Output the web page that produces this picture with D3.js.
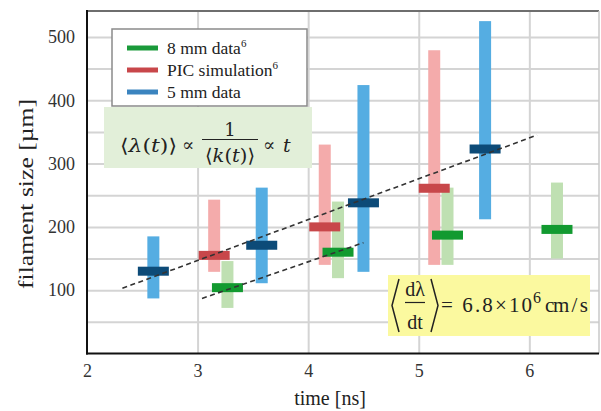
<!DOCTYPE html>
<html>
<head>
<meta charset="utf-8">
<script src="https://cdn.jsdelivr.net/npm/d3@7"></script>
<style>
  body { margin: 0; background: #fff; }
  svg text { font-family: "Liberation Serif", "Times New Roman", serif; fill: #222; }
  .grid line { stroke: #d4d4d4; stroke-width: 2; }
  .grid path { display: none; }
  .tick-lab path { display: none; }
</style>
</head>
<body>
<script>
// ---- data ----
const time5 = [2.6, 3.58, 4.5, 5.6];
const med5 = [130, 171, 238, 323];
const lo5 = [87, 111, 129, 212];
const hi5 = [185, 262, 424, 525];

const timePic = [3.15, 4.15, 5.14];
const medPic = [155, 200, 261];
const loPic = [129, 140, 140];
const hiPic = [243, 330, 479];

const time8 = [3.27, 4.27, 5.26, 6.25];
const med8 = [104, 160, 187, 196];
const lo8 = [72, 119, 140, 150];
const hi8 = [146, 240, 262, 270];

// dashed trend lines [t, size]
const fitUpper = [[2.32, 103], [6.07, 345]];
const fitLower = [[3.04, 87], [4.5, 175]];

const xTicks = [2, 3, 4, 5, 6];
const yTicks = [100, 200, 300, 400, 500];
const yGrid = d3.range(50, 501, 50);

const seriesNames = ['8 mm data', 'PIC simulation', '5 mm data'];

// ---- layout ----
const W = 601, H = 411;
const plotL = 87, plotR = 599, plotT = 11, plotB = 353.5;
const serif = '"Liberation Serif", "Times New Roman", serif';
const mathFont = '"DejaVu Serif", serif';

const x = d3.scaleLinear().domain([2, 6.63]).range([plotL, plotR]);
const y = d3.scaleLinear().domain([0, 541]).range([plotB, plotT]);

const svg = d3.select('body').append('svg')
  .attr('width', W)
  .attr('height', H);

function buildChart() {
  // grid
  svg.append('g')
    .attr('class', 'grid')
    .attr('transform', 'translate(' + plotL + ',0)')
    .call(d3.axisLeft(y).tickValues(yGrid).tickSize(-(plotR - plotL)).tickFormat(''));

  svg.append('g')
    .attr('class', 'grid')
    .attr('transform', 'translate(0,' + plotB + ')')
    .call(d3.axisBottom(x).tickValues([3, 4, 5, 6]).tickSize(plotB - plotT).tickFormat(''))
    .selectAll('line').attr('y2', -(plotB - plotT));

  // frame
  svg.append('line').attr('x1', plotL).attr('x2', plotR).attr('y1', plotT).attr('y2', plotT)
    .attr('stroke', '#6e6e6e').attr('stroke-width', 2);
  svg.append('line').attr('x1', plotR).attr('x2', plotR).attr('y1', plotT).attr('y2', plotB)
    .attr('stroke', '#c8c8c8').attr('stroke-width', 1.5);
  svg.append('line').attr('x1', plotL).attr('x2', plotL).attr('y1', plotT - 1).attr('y2', plotB + 1)
    .attr('stroke', '#111').attr('stroke-width', 2);
  svg.append('line').attr('x1', plotL - 1).attr('x2', plotR).attr('y1', plotB).attr('y2', plotB)
    .attr('stroke', '#111').attr('stroke-width', 2);

  // tick labels
  const xLab = svg.append('g')
    .attr('class', 'tick-lab')
    .attr('transform', 'translate(0,' + plotB + ')')
    .call(d3.axisBottom(x).tickValues(xTicks).tickSize(0).tickPadding(11).tickFormat(d3.format('d')));

  const yLab = svg.append('g')
    .attr('class', 'tick-lab')
    .attr('transform', 'translate(' + (plotL - 1) + ',0)')
    .call(d3.axisLeft(y).tickValues(yTicks).tickSize(0).tickPadding(11).tickFormat(d3.format('d')));

  [xLab, yLab].forEach(a => {
    a.attr('font-family', null).attr('font-size', null);
    a.selectAll('text')
      .style('font-family', serif)
      .style('font-size', '18px')
      .style('fill', '#333');
  });

  // axis titles
  svg.append('text')
    .attr('x', 330).attr('y', 405)
    .attr('text-anchor', 'middle')
    .style('font-size', '20px')
    .text('time [ns]');

  svg.append('text')
    .attr('transform', 'translate(33,194) rotate(-90)')
    .attr('text-anchor', 'middle')
    .attr('textLength', 190)
    .attr('lengthAdjust', 'spacingAndGlyphs')
    .style('font-size', '21px')
    .text('filament size [µm]');

  // formula box (green)
  svg.append('rect')
    .attr('x', 104).attr('y', 107).attr('width', 208).attr('height', 61)
    .attr('fill', '#e2efd9');

  // legend box
  svg.append('rect')
    .attr('x', 112).attr('y', 29).attr('width', 195).attr('height', 77)
    .attr('fill', '#fff').attr('stroke', '#8a8a8a').attr('stroke-width', 1.5);

  // yellow box
  svg.append('rect')
    .attr('x', 388).attr('y', 275).attr('width', 202).attr('height', 61)
    .attr('fill', '#fbf99f');

  const line = d3.line().x(d => x(d[0])).y(d => y(d[1]));

  const series = [
    { t: timePic, med: medPic, lo: loPic, hi: hiPic, bar: '#f4abab', mark: '#c8474a' },
    { t: time8, med: med8, lo: lo8, hi: hi8, bar: '#bfe0b2', mark: '#129a30' },
    { t: time5, med: med5, lo: lo5, hi: hi5, bar: '#55ade2', mark: '#0d4b78' }
  ];

  const barW = 12, markW = 31, markH = 9;

  series.forEach(s => {
    const idx = d3.range(s.t.length);
    svg.append('g').selectAll('.range-bar')
      .data(idx)
      .enter().append('rect')
      .attr('class', 'range-bar')
      .attr('x', i => x(s.t[i]) - barW / 2)
      .attr('y', i => y(s.hi[i]))
      .attr('width', barW)
      .attr('height', i => y(s.lo[i]) - y(s.hi[i]))
      .attr('fill', s.bar);
  });

  // medians on top
  series.forEach(s => {
    const idx = d3.range(s.t.length);
    svg.append('g').selectAll('.mark')
      .data(idx)
      .enter().append('rect')
      .attr('class', 'mark')
      .attr('x', i => x(s.t[i]) - markW / 2)
      .attr('y', i => y(s.med[i]) - markH / 2)
      .attr('width', markW)
      .attr('height', markH)
      .attr('fill', s.mark);
  });

  // dashed lines above the marks
  [fitUpper, fitLower].forEach(f => {
    svg.append('path')
      .attr('d', line(f))
      .attr('fill', 'none')
      .attr('stroke', '#333')
      .attr('stroke-width', 1.6)
      .attr('stroke-dasharray', '5,3.5');
  });

  // legend entries
  const legColors = ['#1a9a3a', '#c8474a', '#3b84bf'];
  const sup = [true, true, false];
  seriesNames.forEach((name, i) => {
    const yy = 48 + i * 22;
    svg.append('line')
      .attr('x1', 127).attr('x2', 158).attr('y1', yy).attr('y2', yy)
      .attr('stroke', legColors[i]).attr('stroke-width', 5);
    const t = svg.append('text')
      .attr('x', 167).attr('y', yy + 6)
      .style('font-size', '17.5px')
      .text(name);
    if (sup[i]) {
      t.append('tspan').attr('dy', -7).style('font-size', '11px').text('6');
    }
  });

  // green formula
  const gf = svg.append('g');
  gf.append('text').attr('x', 120).attr('y', 152)
    .style('font-size', '19px').style('font-family', mathFont)
    .attr('textLength', 57).attr('lengthAdjust', 'spacingAndGlyphs')
    .html('⟨<tspan font-style="italic">λ</tspan>(<tspan font-style="italic">t</tspan>)⟩');
  gf.append('text').attr('x', 182).attr('y', 151)
    .style('font-size', '18px').style('font-family', mathFont).text('∝');
  gf.append('text').attr('x', 230).attr('y', 136).attr('text-anchor', 'middle')
    .style('font-size', '18px').style('font-family', mathFont).text('1');
  gf.append('line').attr('x1', 202).attr('x2', 258).attr('y1', 139.5).attr('y2', 139.5)
    .attr('stroke', '#222').attr('stroke-width', 1.2);
  gf.append('text').attr('x', 205).attr('y', 162)
    .style('font-size', '19px').style('font-family', mathFont)
    .attr('textLength', 50).attr('lengthAdjust', 'spacingAndGlyphs')
    .html('⟨<tspan font-style="italic">k</tspan>(<tspan font-style="italic">t</tspan>)⟩');
  gf.append('text').attr('x', 263).attr('y', 151)
    .style('font-size', '18px').style('font-family', mathFont).text('∝');
  gf.append('text').attr('x', 283).attr('y', 152)
    .style('font-size', '19px').style('font-family', mathFont).style('font-style', 'italic').text('t');

  // yellow formula
  const gy = svg.append('g');
  gy.append('path').attr('d', 'M399,279 L392,305.5 L399,332')
    .attr('fill', 'none').attr('stroke', '#222').attr('stroke-width', 1.5);
  gy.append('path').attr('d', 'M431,279 L438,305.5 L431,332')
    .attr('fill', 'none').attr('stroke', '#222').attr('stroke-width', 1.5);
  gy.append('text').attr('x', 415).attr('y', 296).attr('text-anchor', 'middle')
    .style('font-size', '20px').text('dλ');
  gy.append('line').attr('x1', 405).attr('x2', 425).attr('y1', 302.5).attr('y2', 302.5)
    .attr('stroke', '#222').attr('stroke-width', 1.2);
  gy.append('text').attr('x', 415).attr('y', 329).attr('text-anchor', 'middle')
    .style('font-size', '20px').text('dt');
  gy.append('text').attr('x', 441).attr('y', 312)
    .style('font-size', '21px')
    .attr('textLength', 91).attr('lengthAdjust', 'spacing')
    .text('= 6.8×10');
  gy.append('text').attr('x', 533).attr('y', 303).style('font-size', '16px').text('6');
  gy.append('text').attr('x', 545).attr('y', 312)
    .style('font-size', '21px')
    .attr('textLength', 43).attr('lengthAdjust', 'spacing')
    .text('cm / s');
}

buildChart();
</script>
</body>
</html>
